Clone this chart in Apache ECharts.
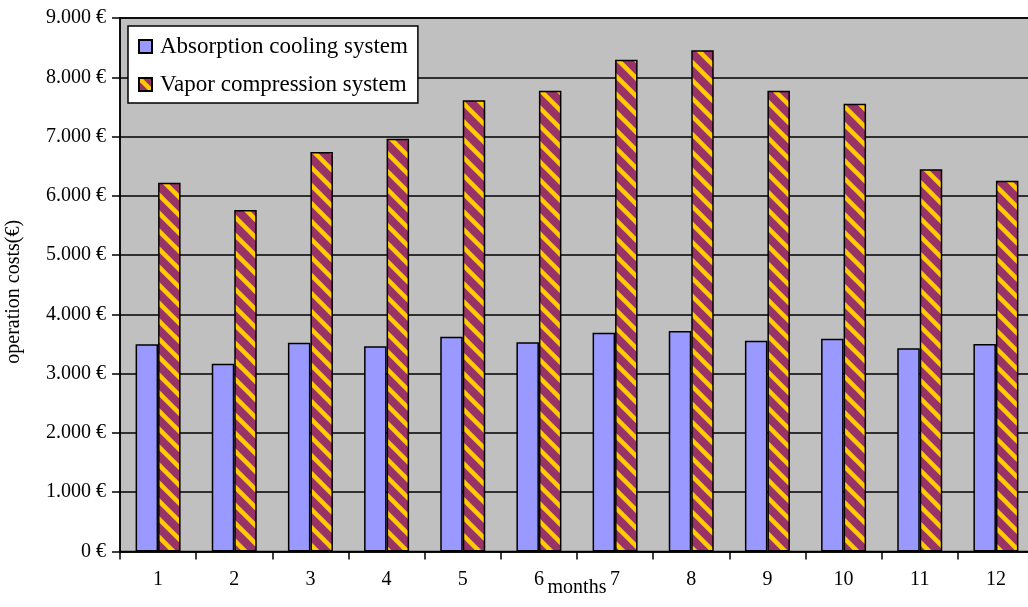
<!DOCTYPE html>
<html>
<head>
<meta charset="utf-8">
<script src="https://cdn.jsdelivr.net/npm/echarts@6/dist/echarts.min.js"></script>
<style>
  html, body { margin: 0; padding: 0; background: #fff; }
  #chart { width: 1028px; height: 607px; }
</style>
</head>
<body>
<div id="chart"></div>
<script>
// Monthly operation costs of two cooling systems
const months = ['1', '2', '3', '4', '5', '6', '7', '8', '9', '10', '11', '12'];
const absorptionCosts = [3495, 3168, 3522, 3461, 3624, 3529, 3691, 3720, 3556, 3590, 3428, 3500];
const vaporCosts = [6220, 5760, 6740, 6963, 7611, 7773, 8296, 8455, 7773, 7554, 6447, 6255];
const seriesNames = ['Absorption cooling system', 'Vapor compression system'];
const yTicks = { min: 0, max: 9000, step: 1000 };

// Diagonal maroon/yellow hatch used for the vapor compression bars
function makeStripes() {
  const size = 18;
  const c = document.createElement('canvas');
  c.width = size; c.height = size;
  const ctx = c.getContext('2d');
  ctx.fillStyle = '#993366';
  ctx.fillRect(0, 0, size, size);
  ctx.strokeStyle = '#ffcc00';
  ctx.lineWidth = 4.5;
  for (let k = -1; k <= 1; k++) {
    ctx.beginPath();
    ctx.moveTo(k * size - 2, -2);
    ctx.lineTo(k * size + size + 2, size + 2);
    ctx.stroke();
  }
  return c;
}

function euro(v) {
  const s = String(Math.round(v)).replace(/\B(?=(\d{3})+(?!\d))/g, '.');
  return s + ' €';
}

const font = 'Liberation Serif';
const chart = echarts.init(document.getElementById('chart'), null, { renderer: 'canvas' });

chart.setOption({
  animation: false,
  backgroundColor: '#ffffff',
  textStyle: { fontFamily: font, color: '#000' },
  grid: {
    left: 120, right: -6, top: 18, bottom: 55.5,
    outerBoundsMode: 'none',
    containLabel: false,
    show: true, backgroundColor: '#c0c0c0', borderColor: '#000', borderWidth: 1.5
  },
  legend: {
    orient: 'vertical',
    left: 128, top: 26,
    padding: [9, 10, 7, 10],
    itemGap: 15,
    itemWidth: 13, itemHeight: 13,
    icon: 'rect',
    backgroundColor: '#ffffff',
    borderColor: '#000', borderWidth: 1.5,
    textStyle: { fontFamily: font, fontSize: 23, color: '#000', padding: [0, 0, 0, 3] },
    data: seriesNames
  },
  xAxis: {
    type: 'category',
    data: months,
    name: 'months',
    nameLocation: 'middle',
    nameGap: 26,
    nameMoveOverlap: false,
    nameTextStyle: { fontFamily: font, fontSize: 20, color: '#000' },
    axisLine: { lineStyle: { color: '#000', width: 1.5 } },
    axisTick: { show: true, length: 8, lineStyle: { color: '#000', width: 1.5 } },
    axisLabel: { fontFamily: font, fontSize: 20, color: '#000', margin: 18 },
    splitLine: { show: false }
  },
  yAxis: {
    type: 'value',
    min: yTicks.min, max: yTicks.max, interval: yTicks.step,
    name: 'operation costs(€)',
    nameLocation: 'middle',
    nameGap: 96,
    nameMoveOverlap: false,
    nameTextStyle: { fontFamily: font, fontSize: 20, color: '#000', padding: [0, 14, 0, 0] },
    axisLine: { show: true, lineStyle: { color: '#000', width: 1.5 } },
    axisTick: { show: true, length: 8, lineStyle: { color: '#000', width: 1.5 } },
    axisLabel: { fontFamily: font, fontSize: 20, color: '#000', margin: 14, formatter: euro },
    splitLine: { show: true, lineStyle: { color: '#000', width: 1.5 } }
  },
  series: [
    {
      name: seriesNames[0],
      type: 'bar',
      data: absorptionCosts,
      barWidth: 22.5,
      barGap: '0%',
      itemStyle: { color: '#9999ff', borderColor: '#000', borderWidth: 1.5 }
    },
    {
      name: seriesNames[1],
      type: 'bar',
      data: vaporCosts,
      barWidth: 22.5,
      barGap: '0%',
      itemStyle: {
        color: { image: makeStripes(), repeat: 'repeat' },
        borderColor: '#000', borderWidth: 1.5
      }
    }
  ]
});
</script>
</body>
</html>
